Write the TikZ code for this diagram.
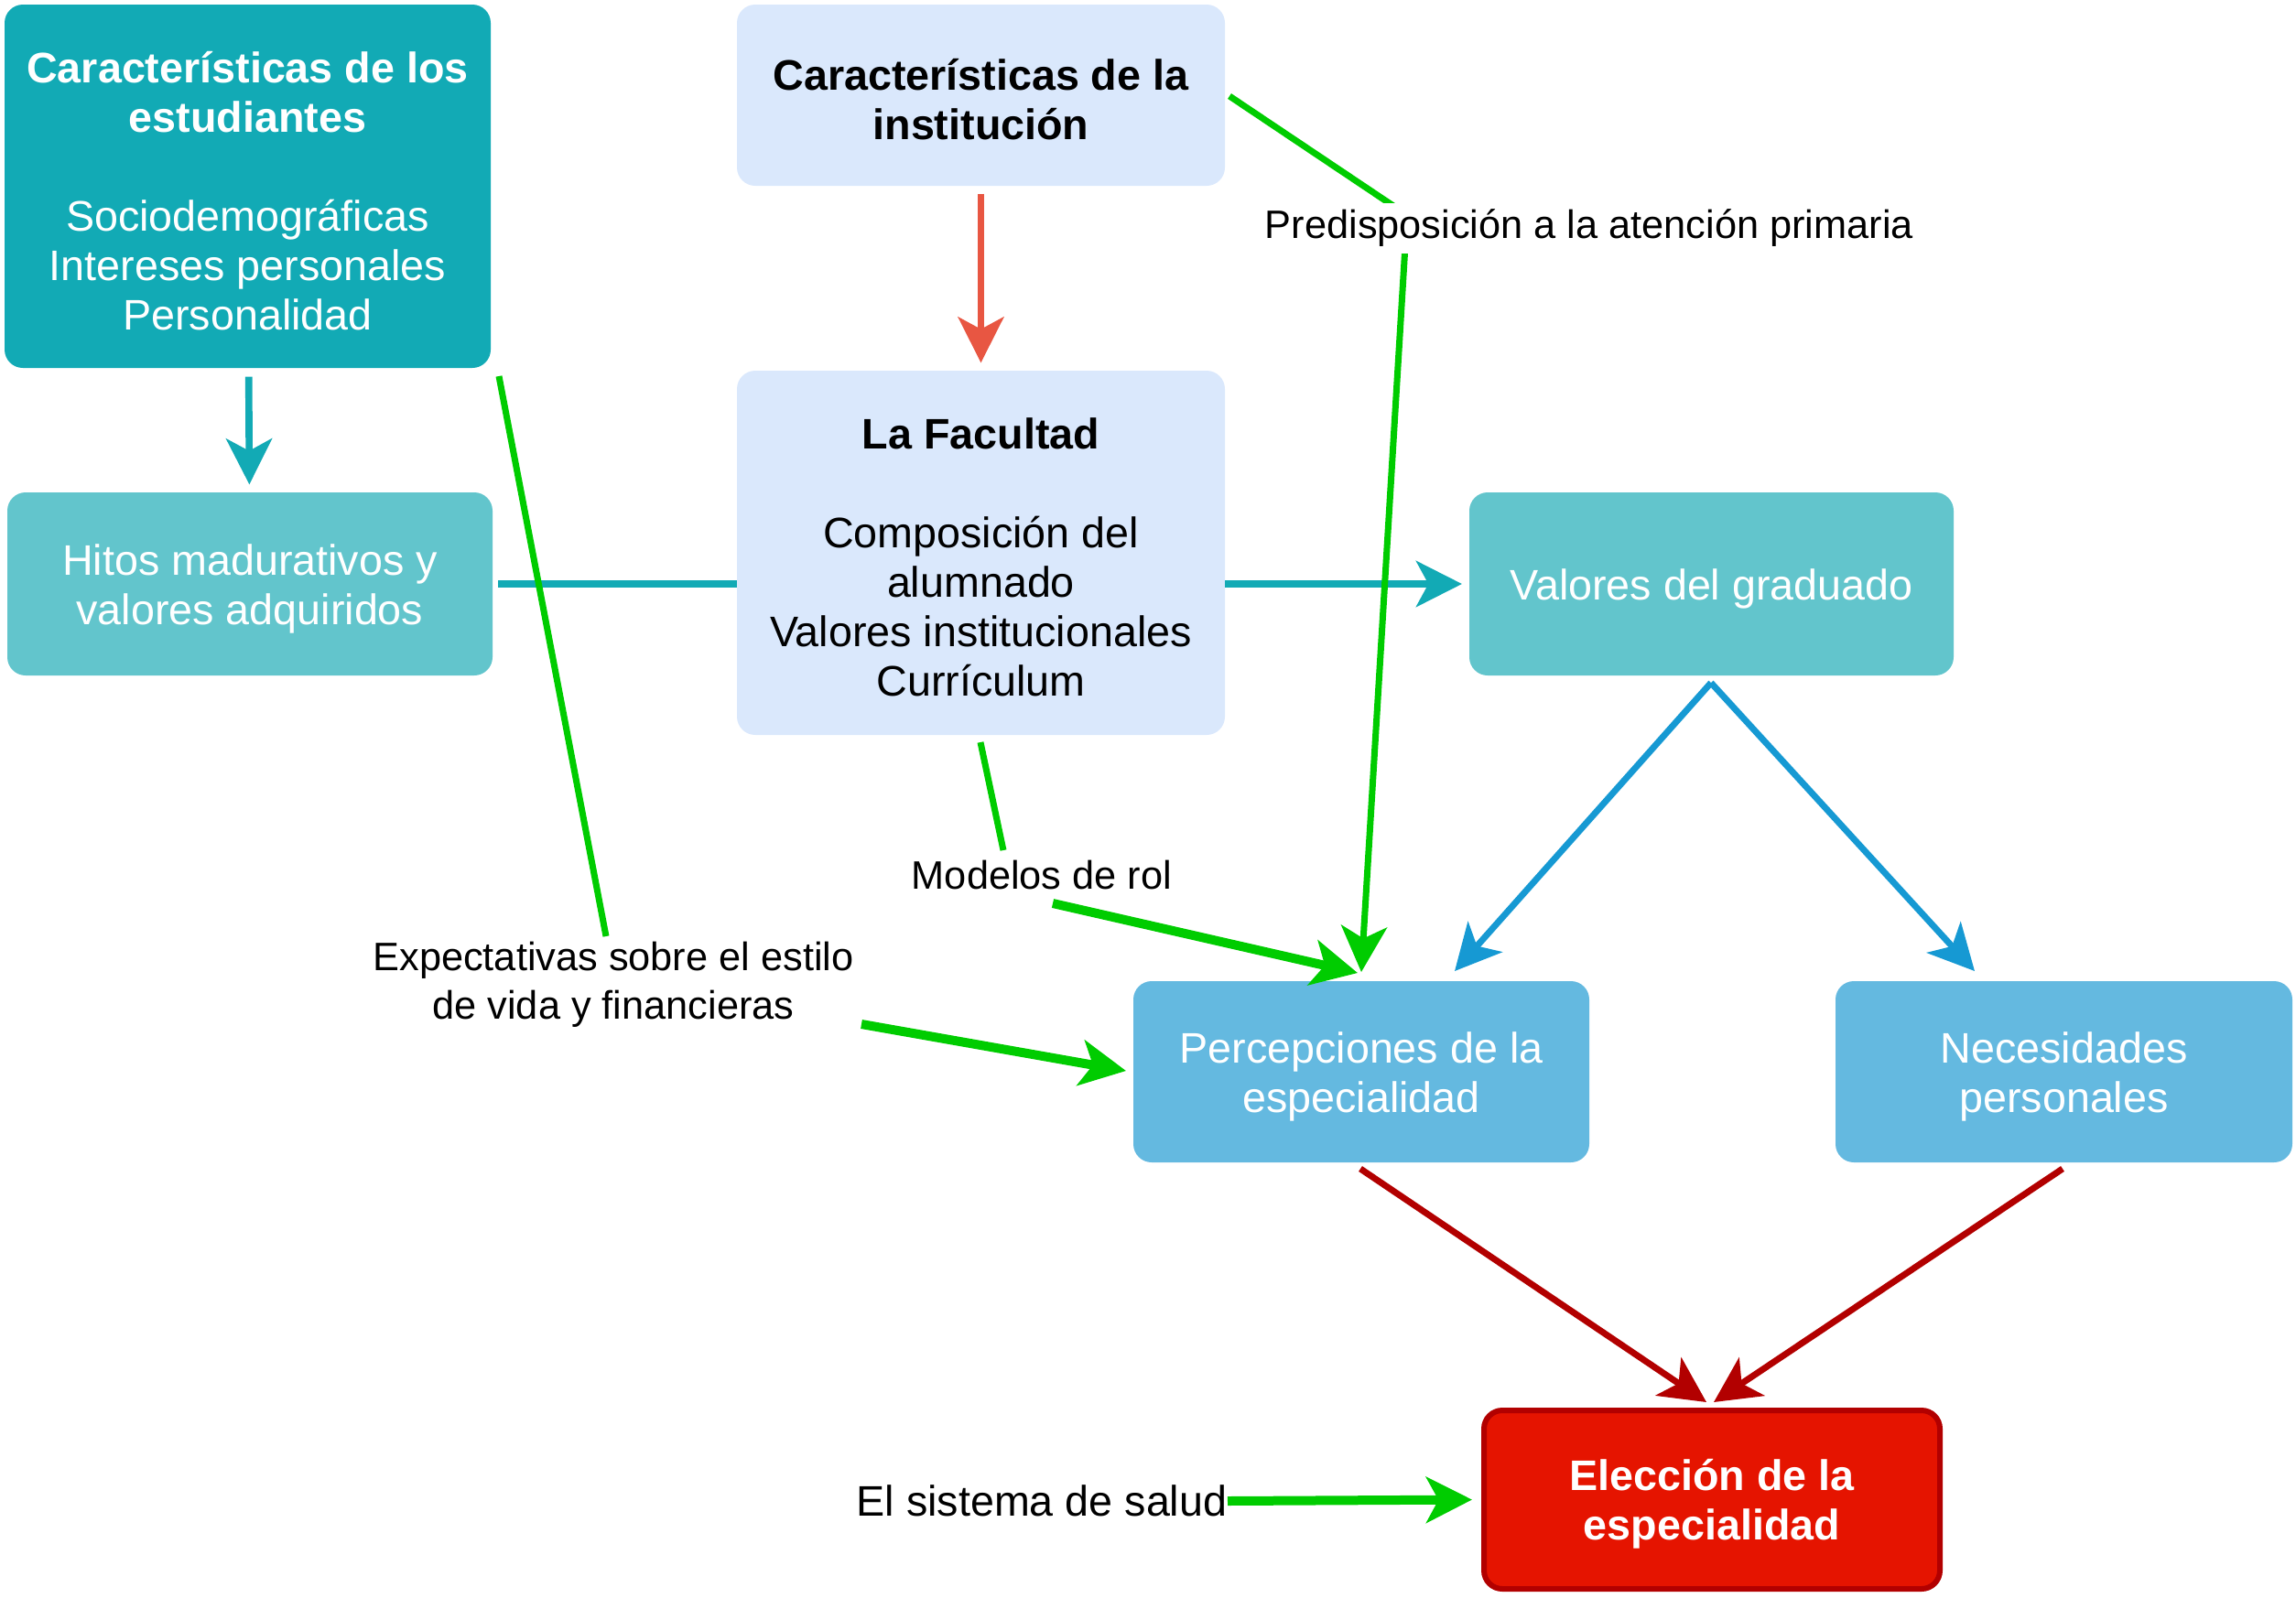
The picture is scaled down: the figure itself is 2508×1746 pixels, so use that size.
\documentclass[tikz,border=0pt]{standalone}
\usepackage{fontspec}
\setmainfont{Liberation Sans}
\usetikzlibrary{arrows.meta}
\definecolor{tealA}{HTML}{12AAB5}
\definecolor{tealB}{HTML}{62C5CC}
\definecolor{lblue}{HTML}{DAE8FC}
\definecolor{skyb}{HTML}{64B9E0}
\definecolor{blueA}{HTML}{1699D3}
\definecolor{redA}{HTML}{E85642}
\definecolor{dred}{HTML}{B20000}
\definecolor{redF}{HTML}{E51400}
\definecolor{grn}{HTML}{00CC00}
\begin{document}
\begin{tikzpicture}[x=0.3pt,y=-0.3pt,
  box/.style={rectangle, rounded corners=6pt, draw=none, inner sep=0pt},
  btxt/.style={align=center, inner sep=0pt, yshift=-1.5pt, font=\fontsize{14}{16.2}\selectfont},
  wtxt/.style={btxt, text=white},
  lbl/.style={fill=white, inner sep=1pt, align=center, font=\fontsize{13}{16}\selectfont},
  arr/.style={-{Stealth[length=15pt,width=15pt,inset=4pt]}},
  thin/.style={line width=2.1pt},
  thick/.style={line width=3pt},
  conn/.style={line width=2.1pt}
]
\useasboundingbox (0,0) rectangle (2508,1746);

% boxes
\node[box, fill=tealA, minimum width=159.3pt, minimum height=119.1pt,
  label={[wtxt]center:{\textbf{Características de los}\\\textbf{estudiantes}\\[16.2pt]Sociodemográficas\\Intereses personales\\Personalidad}}] (stu) at (270.5,203.5) {};
\node[box, fill=lblue, minimum width=159.9pt, minimum height=59.4pt,
  label={[btxt]center:{\textbf{Características de la}\\\textbf{institución}}}] (inst) at (1071.5,104) {};
\node[box, fill=lblue, minimum width=159.9pt, minimum height=119.4pt,
  label={[btxt]center:{\textbf{La Facultad}\\[16.2pt]Composición del\\alumnado\\Valores institucionales\\Currículum}}] (fac) at (1071.5,604) {};
\node[box, fill=tealB, minimum width=159pt, minimum height=60pt,
  label={[wtxt]center:{Hitos madurativos y\\valores adquiridos}}] (hit) at (273,638) {};
\node[box, fill=tealB, minimum width=158.7pt, minimum height=60pt,
  label={[wtxt]center:{Valores del graduado}}] (val) at (1869.5,638) {};
\node[box, fill=skyb, minimum width=149.4pt, minimum height=59.4pt,
  label={[wtxt]center:{Percepciones de la\\especialidad}}] (per) at (1487,1171) {};
\node[box, fill=skyb, minimum width=149.7pt, minimum height=59.4pt,
  label={[wtxt]center:{Necesidades\\personales}}] (nec) at (2254.5,1171) {};
\node[box, fill=redF, draw=dred, line width=1.8pt, minimum width=149.4pt, minimum height=58.5pt,
  label={[wtxt]center:{\textbf{Elección de la}\\\textbf{especialidad}}}] (ele) at (1870,1638.5) {};

% free ends / waypoints
\coordinate (he) at (544,638);
\coordinate (fw) at (805,638);
\coordinate (fe) at (1338,638);
\coordinate (vw) at (1597,638);
\coordinate (vs) at (1869,746);
\coordinate (bl) at (1589,1061);
\coordinate (br) at (2157,1061);
\coordinate (ps) at (1486,1277);
\coordinate (ns) at (2253,1277);
\coordinate (el) at (1864,1532);
\coordinate (er) at (1872,1532);
\coordinate (ie) at (1343,105);
\coordinate (wpre) at (1537,235);
\coordinate (pt) at (1487,1062);
\coordinate (fs) at (1071,811);
\coordinate (mtop) at (1096,929);
\coordinate (mbot) at (1150,987);
\coordinate (pt2) at (1483,1063);
\coordinate (ss) at (545,411);
\coordinate (etop) at (662,1023);
\coordinate (ebot) at (941,1119);
\coordinate (pl) at (1230,1170);

% connectors
\draw[tealA, arr, line width=2.3pt, shorten <=2.7pt, shorten >=2.4pt] (stu) -- (hit);
\draw[redA, arr, line width=2pt, shorten <=2.4pt, shorten >=2.4pt] (inst) -- (fac);
\draw[tealA, line width=2.5pt] (he) -- (fw);
\draw[tealA, arr, line width=2.5pt] (fe) -- (vw);
\draw[blueA, conn, arr] (vs) -- (bl);
\draw[blueA, conn, arr] (vs) -- (br);
\draw[dred, conn, arr] (ps) -- (el);
\draw[dred, conn, arr] (ns) -- (er);

\draw[grn, thin, arr] (ie) -- (wpre) -- (pt);
\draw[grn, thin] (fs) -- (mtop);
\draw[grn, thick, arr] (mbot) -- (pt2);
\draw[grn, thin] (ss) -- (etop);
\draw[grn, thick, arr] (ebot) -- (pl);

% labels
\node[lbl, minimum height=16.5pt] (pre) at (1736,249) {Predisposición a la atención primaria};
\node[lbl, fill=none, inner sep=0pt] (mod) at (1138,956) {Modelos de rol};
\node[lbl, fill=none, inner sep=0pt] (exp) at (670,1076) {Expectativas sobre el estilo\\de vida y financieras};
\node[lbl, fill=none, inner sep=0pt, font=\fontsize{14}{16.2}\selectfont] (sal) at (1138,1640) {El sistema de salud};

\draw[grn, thick, arr, shorten >=3pt] (sal.east) -- (ele.west);
\end{tikzpicture}
\end{document}
